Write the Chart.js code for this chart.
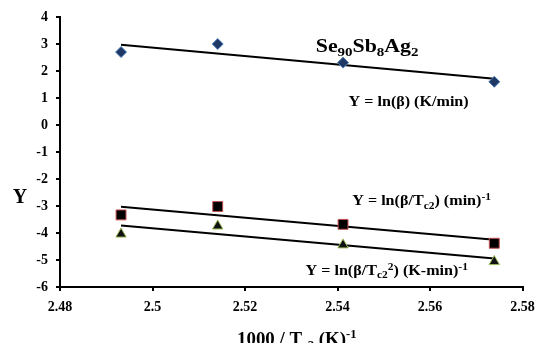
<!DOCTYPE html>
<html>
<head>
<meta charset="utf-8">
<script src="https://cdn.jsdelivr.net/npm/chart.js@4.4.0/dist/chart.umd.min.js"></script>
<style>
  html, body { margin: 0; padding: 0; background: #fff; }
  #wrap { width: 536px; height: 343px; position: relative; }
</style>
</head>
<body>
<div id="wrap"><canvas id="chart"></canvas></div>
<script>
// 1000/Tc2 values (K^-1)
const xVals = [2.4932, 2.5141, 2.5412, 2.5739];
// Y = ln(beta)
const lnBeta = [2.70, 3.00, 2.31, 1.60];
// Y = ln(beta/Tc2)
const lnBetaT = [-3.33, -3.02, -3.68, -4.38];
// Y = ln(beta/Tc2^2)
const lnBetaT2 = [-4.04, -3.74, -4.44, -5.06];

// trend line end points (first x, last x)
const fitX = [2.4932, 2.5739];
const fitBeta = [2.97, 1.71];
const fitBetaT = [-3.03, -4.25];
const fitBetaT2 = [-3.72, -4.94];

const xTicks = [2.48, 2.50, 2.52, 2.54, 2.56, 2.58];
const yTicks = [-6, -5, -4, -3, -2, -1, 0, 1, 2, 3, 4];

const FONT = "'Liberation Serif', 'Times New Roman', serif";

const pts = (xs, ys) => xs.map((x, i) => ({ x: x, y: ys[i] }));

// texts with sub/superscripts, placed in data coordinates
const labels = [
    { x: 2.5353, y: 2.70, size: 19, parts: [['Se'], ['90', 'sub'], ['Sb'], ['8', 'sub'], ['Ag'], ['2', 'sub']] },
    { x: 2.5424, y: 0.72, size: 14, parts: [['Y = ln(\u03B2) (K/min)']] },
    { x: 2.5432, y: -2.98, size: 14, parts: [['Y = ln(\u03B2/T'], ['c2', 'sub'], [') (min)'], ['-1', 'sup']] },
    { x: 2.5331, y: -5.57, size: 14, parts: [['Y = ln(\u03B2/T'], ['c2', 'sub'], ['2', 'sup'], [') (K-min)'], ['-1', 'sup']] }
];

// the picture's text is a bit wider than the font, stretch it sideways
function drawRich(ctx, parts, x, y, size, stretch) {
    ctx.save();
    ctx.translate(x, y);
    ctx.scale(stretch, 1);
    let cx = 0;
    parts.forEach(p => {
        const kind = p[1];
        let s = size, dy = 0;
        if (kind === 'sub') { s = Math.round(size * 0.68); dy = size * 0.22; }
        if (kind === 'sup') { s = Math.round(size * 0.68); dy = -size * 0.38; }
        ctx.font = 'bold ' + s + 'px ' + FONT;
        ctx.fillText(p[0], cx, dy);
        cx += ctx.measureText(p[0]).width;
    });
    ctx.restore();
}

const textPlugin = {
    id: 'richText',
    afterDraw(chart) {
        const ctx = chart.ctx;
        const xs = chart.scales.x, ys = chart.scales.y;
        ctx.save();
        ctx.fillStyle = '#000';
        ctx.textBaseline = 'alphabetic';
        ctx.textAlign = 'left';
        labels.forEach(l => {
            drawRich(ctx, l.parts, xs.getPixelForValue(l.x), ys.getPixelForValue(l.y), l.size, 1.15);
        });
        // axis titles
        ctx.font = 'bold 20px ' + FONT;
        ctx.textAlign = 'center';
        ctx.fillText('Y', 20, 203);
        ctx.textAlign = 'left';
        drawRich(ctx, [['1000 / T'], ['c2', 'sub'], [' (K)'], ['-1', 'sup']], 237, 345, 18, 1.05);
        ctx.restore();
    }
};

new Chart(document.getElementById('chart'), {
    type: 'scatter',
    data: {
        datasets: [
            {
                label: 'ln(beta)',
                data: pts(xVals, lnBeta),
                pointStyle: 'rectRot',
                pointRadius: 5.5,
                backgroundColor: '#1F3864',
                borderColor: '#4F81BD',
                borderWidth: 1
            },
            {
                label: 'ln(beta/Tc2)',
                data: pts(xVals, lnBetaT),
                pointStyle: 'rect',
                pointRadius: 7,
                backgroundColor: '#000',
                borderColor: '#C0504D',
                borderWidth: 1
            },
            {
                label: 'ln(beta/Tc2^2)',
                data: pts(xVals, lnBetaT2),
                pointStyle: 'triangle',
                pointRadius: 6,
                backgroundColor: '#111',
                borderColor: '#9BBB59',
                borderWidth: 1
            },
            { type: 'line', data: pts(fitX, fitBeta), borderColor: '#000', borderWidth: 2, pointRadius: 0, fill: false },
            { type: 'line', data: pts(fitX, fitBetaT), borderColor: '#000', borderWidth: 2, pointRadius: 0, fill: false },
            { type: 'line', data: pts(fitX, fitBetaT2), borderColor: '#000', borderWidth: 2, pointRadius: 0, fill: false }
        ]
    },
    options: {
        responsive: true,
        maintainAspectRatio: false,
        animation: false,
        layout: { padding: { top: 17, right: 13.5, left: 0, bottom: 0 } },
        plugins: {
            legend: { display: false },
            tooltip: { enabled: false }
        },
        scales: {
            x: {
                type: 'linear',
                min: xTicks[0],
                max: xTicks[xTicks.length - 1],
                afterBuildTicks: (axis) => { axis.ticks = xTicks.map(v => ({ value: v })); },
                afterFit: (axis) => {
                    axis.height = 56;
                    axis.paddingLeft = 0;
                    axis.paddingRight = 0;
                },
                ticks: {
                    color: '#000',
                    font: { family: FONT, size: 14, weight: 'bold' },
                    padding: 8,
                    maxRotation: 0,
                    callback: (v) => String(+Number(v).toFixed(2))
                },
                grid: { drawOnChartArea: false, drawTicks: true, tickLength: 4, color: '#000', lineWidth: 2 },
                border: { display: true, color: '#000', width: 2 }
            },
            y: {
                min: yTicks[0],
                max: yTicks[yTicks.length - 1],
                afterBuildTicks: (axis) => { axis.ticks = yTicks.map(v => ({ value: v })); },
                afterFit: (axis) => { axis.width = 60; },
                ticks: {
                    color: '#000',
                    font: { family: FONT, size: 14, weight: 'bold' },
                    padding: 8,
                    callback: (v) => String(v)
                },
                grid: { drawOnChartArea: false, drawTicks: true, tickLength: 4, color: '#000', lineWidth: 2 },
                border: { display: true, color: '#000', width: 2 }
            }
        }
    },
    plugins: [textPlugin]
});
</script>
</body>
</html>
